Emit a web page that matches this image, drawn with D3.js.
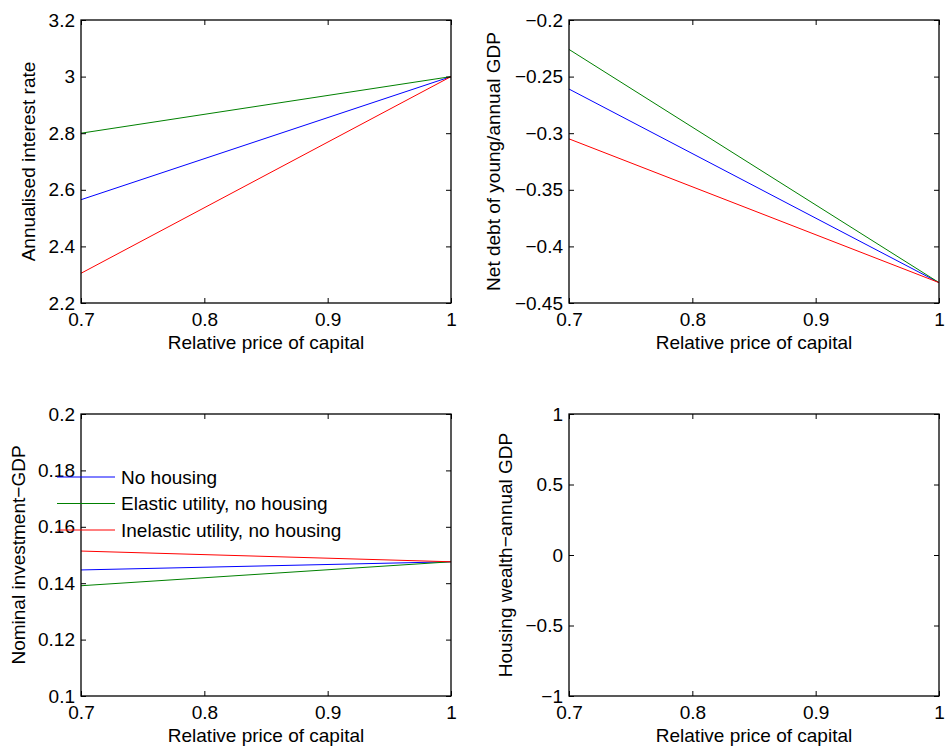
<!DOCTYPE html>
<html>
<head>
<meta charset="utf-8">
<script src="https://cdn.jsdelivr.net/npm/d3@7"></script>
<style>
html,body{margin:0;padding:0;background:#fff;}
svg text{font-family:"Liberation Sans",Arial,Helvetica,sans-serif;fill:#000;}
</style>
</head>
<body>
<svg id="chart" width="946" height="751"></svg>
<script>
// ---- data ----
const xValues = [0.7, 1.0];
const xTicks = [0.7, 0.8, 0.9, 1];
const seriesNames = ["No housing", "Elastic utility, no housing", "Inelastic utility, no housing"];
const seriesColors = ["#0000ff", "#008000", "#ff0000"];

const interestNoHousing = [2.565, 3.0];
const interestElastic = [2.80, 3.0];
const interestInelastic = [2.305, 3.0];
const interestTicks = [2.2, 2.4, 2.6, 2.8, 3, 3.2];

const debtNoHousing = [-0.261, -0.432];
const debtElastic = [-0.226, -0.432];
const debtInelastic = [-0.305, -0.432];
const debtTicks = [-0.45, -0.4, -0.35, -0.3, -0.25, -0.2];

const investNoHousing = [0.1447, 0.1476];
const investElastic = [0.1391, 0.1476];
const investInelastic = [0.1514, 0.1476];
const investTicks = [0.1, 0.12, 0.14, 0.16, 0.18, 0.2];

const housingTicks = [-1, -0.5, 0, 0.5, 1];

const panels = [
  {x0: 81, x1: 451, y0: 20, y1: 303, yDomain: [2.2, 3.2], yTicks: interestTicks,
   series: [interestNoHousing, interestElastic, interestInelastic],
   ylabel: "Annualised interest rate", ylabelX: 35, legend: false},
  {x0: 569, x1: 939, y0: 20, y1: 303, yDomain: [-0.45, -0.2], yTicks: debtTicks,
   series: [debtNoHousing, debtElastic, debtInelastic],
   ylabel: "Net debt of young/annual GDP", ylabelX: 500, legend: false},
  {x0: 81, x1: 451, y0: 414, y1: 696, yDomain: [0.1, 0.2], yTicks: investTicks,
   series: [investNoHousing, investElastic, investInelastic],
   ylabel: "Nominal investment\u2212GDP", ylabelX: 25, legend: true},
  {x0: 569, x1: 939, y0: 414, y1: 696, yDomain: [-1, 1], yTicks: housingTicks,
   series: [],
   ylabel: "Housing wealth\u2212annual GDP", ylabelX: 512, legend: false}
];

const fmt = v => {
  let s = String(+v.toFixed(4));
  return s.replace("-", "\u2212");
};

const svg = d3.select("#chart");
const FS = 19;

panels.forEach(p => {
  const x = d3.scaleLinear().domain([0.7, 1]).range([p.x0, p.x1]);
  const y = d3.scaleLinear().domain(p.yDomain).range([p.y1, p.y0]);
  const g = svg.append("g");

  // data lines
  const line = d3.line().x((d, i) => x(xValues[i])).y(d => y(d));
  p.series.forEach((s, i) => {
    g.append("path").datum(s).attr("d", line)
      .attr("fill", "none").attr("stroke", seriesColors[i]).attr("stroke-width", 1);
  });

  // axes
  const ax = (axis, tx, ty, labels) => {
    const a = g.append("g").attr("transform", `translate(${tx},${ty})`).call(axis);
    a.select(".domain").remove();
    a.selectAll("line").attr("stroke", "#000").attr("stroke-width", 1);
    a.selectAll("text").style("font-size", FS + "px").attr("fill", "#000");
    if (!labels) a.selectAll("text").remove();
    return a;
  };
  ax(d3.axisBottom(x).tickValues(xTicks).tickFormat(fmt).tickSizeInner(-5).tickSizeOuter(0).tickPadding(10), 0, p.y1, true);
  ax(d3.axisTop(x).tickValues(xTicks).tickSizeInner(-5).tickSizeOuter(0), 0, p.y0, false);
  ax(d3.axisLeft(y).tickValues(p.yTicks).tickFormat(fmt).tickSizeInner(-5).tickSizeOuter(0).tickPadding(6), p.x0, 0, true);
  ax(d3.axisRight(y).tickValues(p.yTicks).tickSizeInner(-5).tickSizeOuter(0), p.x1, 0, false);

  // box
  g.append("rect").attr("x", p.x0).attr("y", p.y0)
    .attr("width", p.x1 - p.x0).attr("height", p.y1 - p.y0)
    .attr("fill", "none").attr("stroke", "#000").attr("stroke-width", 1.3);

  // labels
  g.append("text").attr("x", (p.x0 + p.x1) / 2).attr("y", p.y1 + 46)
    .attr("text-anchor", "middle").style("font-size", FS + "px")
    .text("Relative price of capital");
  const cy = (p.y0 + p.y1) / 2;
  g.append("text").attr("transform", `translate(${p.ylabelX},${cy}) rotate(-90)`)
    .attr("text-anchor", "middle").style("font-size", FS + "px")
    .text(p.ylabel);

  if (p.legend) {
    const lg = svg.append("g");
    seriesNames.forEach((name, i) => {
      const ly = p.y0 + 63 + i * 26.5;
      lg.append("line").attr("x1", 57).attr("x2", 115).attr("y1", ly).attr("y2", ly)
        .attr("stroke", seriesColors[i]).attr("stroke-width", 1);
      lg.append("text").attr("x", 121).attr("y", ly).attr("dy", "0.36em")
        .style("font-size", FS + "px").text(name);
    });
  }
});
</script>
</body>
</html>
